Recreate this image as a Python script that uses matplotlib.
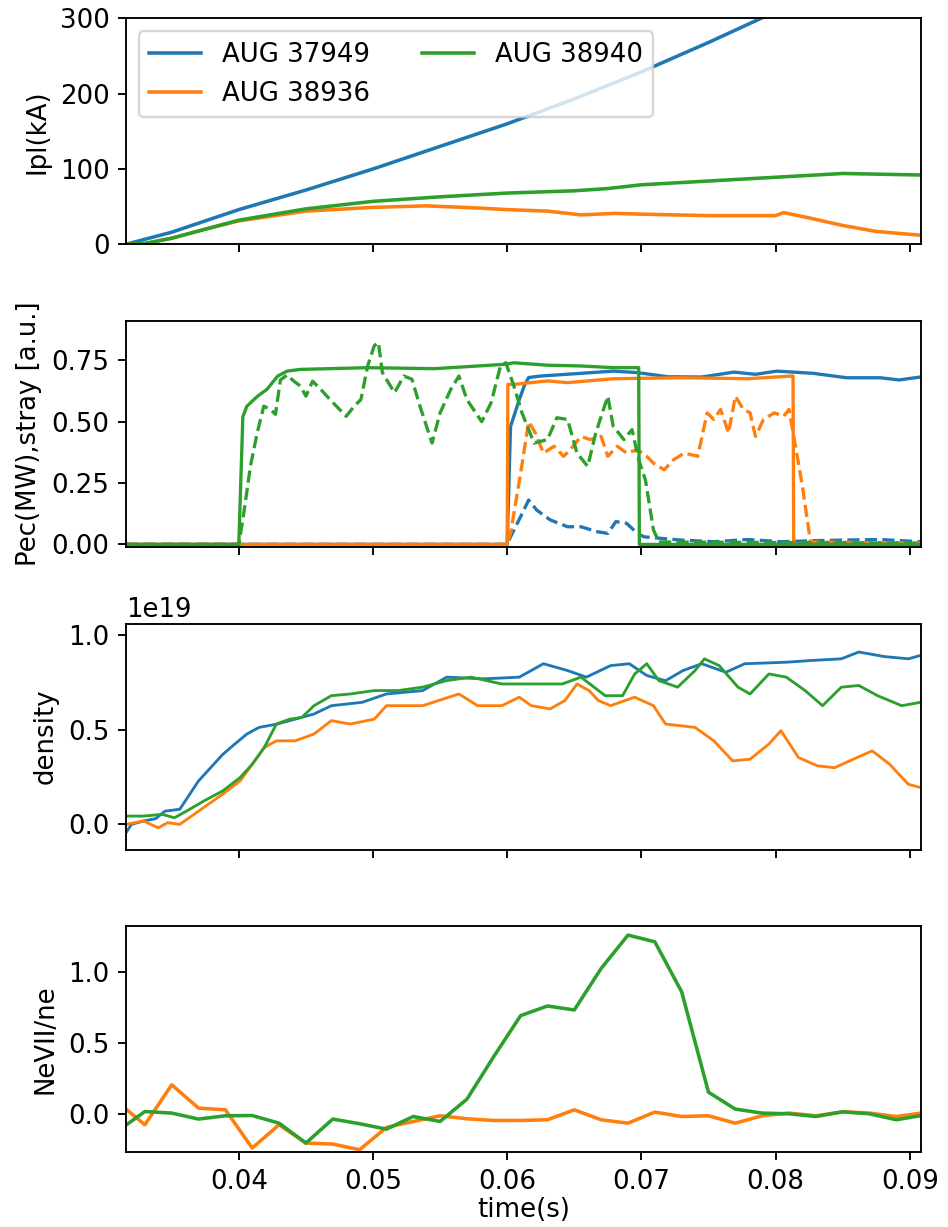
import numpy as np
import matplotlib
matplotlib.use("Agg")
import matplotlib.pyplot as plt

plt.rcParams['font.size'] = 11

shots = ["AUG 37949", "AUG 38936", "AUG 38940"]
colors = ["C0", "C1", "C2"]

# --- plasma current (kA) ---
ip_t_37949 = [0.0316, 0.035, 0.040, 0.045, 0.050, 0.055, 0.060, 0.065, 0.070, 0.075, 0.0789, 0.085, 0.0908]
ip_37949 = [0, 16, 46, 72, 100, 130, 160, 193, 229, 268, 300, 349, 397]

ip_t_38936 = [0.0316, 0.033, 0.035, 0.0375, 0.040, 0.045, 0.050, 0.054, 0.058, 0.060, 0.063, 0.0655,
              0.068, 0.070, 0.075, 0.080, 0.0806, 0.0825, 0.085, 0.0875, 0.0908]
ip_38936 = [0, 1, 8, 20, 31, 44, 49, 51, 48, 46, 44, 39, 41, 40, 38, 38, 42, 35, 25, 17, 12]

ip_t_38940 = [0.0316, 0.033, 0.035, 0.0375, 0.040, 0.045, 0.050, 0.055, 0.060, 0.065, 0.0675, 0.070,
              0.075, 0.080, 0.085, 0.0908]
ip_38940 = [0, 1, 8, 20, 32, 47, 57, 63, 68, 71, 74, 79, 84, 89, 94, 92]

# --- ECRH power (solid) ---
pec_t_37949 = [0.0316, 0.0600, 0.06025, 0.0609, 0.0613, 0.0616, 0.0625, 0.0655, 0.0679, 0.0697, 0.0720,
               0.0745, 0.0769, 0.0785, 0.0801, 0.0828, 0.0853, 0.0878, 0.0892, 0.0908]
pec_37949 = [0, 0, 0.48, 0.59, 0.65, 0.68, 0.686, 0.697, 0.706, 0.70, 0.683, 0.682, 0.702, 0.693,
             0.706, 0.697, 0.679, 0.679, 0.67, 0.682]

pec_t_38936 = [0.0316, 0.0600, 0.06005, 0.0605, 0.0630, 0.0645, 0.0679, 0.0729, 0.0779, 0.0812, 0.0813,
               0.08135, 0.0908]
pec_38936 = [0, 0, 0.652, 0.652, 0.666, 0.659, 0.675, 0.679, 0.675, 0.686, 0.686, 0, 0]

pec_t_38940 = [0.0316, 0.0400, 0.0403, 0.0406, 0.0414, 0.0421, 0.0429, 0.0436, 0.0446, 0.0496, 0.0546,
               0.0599, 0.0605, 0.0630, 0.0655, 0.0679, 0.0698, 0.06985, 0.0908]
pec_38940 = [0, 0, 0.52, 0.563, 0.604, 0.632, 0.686, 0.706, 0.713, 0.72, 0.716, 0.734, 0.74, 0.73,
             0.727, 0.72, 0.72, 0, 0]

# --- stray radiation (dashed) ---
stray_t_37949 = [0.0316, 0.0600, 0.06025, 0.0610, 0.0616, 0.0622, 0.0632, 0.0645, 0.0655, 0.0667, 0.0675,
                 0.0681, 0.0689, 0.0697, 0.0702, 0.0714, 0.0729, 0.0754, 0.0779, 0.0804, 0.0828,
                 0.0853, 0.0878, 0.0908]
stray_37949 = [0, 0, 0.031, 0.113, 0.181, 0.14, 0.10, 0.072, 0.072, 0.052, 0.045, 0.093, 0.086, 0.045,
               0.031, 0.025, 0.018, 0.011, 0.02, 0.011, 0.015, 0.018, 0.02, 0.011]

stray_t_38936 = [0.0316, 0.0600, 0.06025, 0.0610, 0.0616, 0.0621, 0.0627, 0.0635, 0.0642, 0.0647, 0.0655,
                 0.0662, 0.0670, 0.0675, 0.0682, 0.0689, 0.0697, 0.0704, 0.0709, 0.0717, 0.0724,
                 0.0732, 0.0742, 0.0749, 0.0754, 0.0759, 0.0765, 0.0770, 0.0776, 0.0781, 0.0785,
                 0.0791, 0.0799, 0.0806, 0.0810, 0.0814, 0.0820, 0.0826, 0.0908]
stray_38936 = [0, 0, 0.045, 0.29, 0.50, 0.454, 0.372, 0.40, 0.359, 0.386, 0.44, 0.427, 0.44, 0.359,
               0.40, 0.372, 0.386, 0.359, 0.331, 0.304, 0.345, 0.372, 0.359, 0.536, 0.509, 0.55,
               0.454, 0.604, 0.55, 0.536, 0.44, 0.509, 0.536, 0.522, 0.55, 0.427, 0.236, 0.01, 0.005]

stray_t_38940 = [0.0316, 0.0400, 0.04037, 0.04087, 0.04137, 0.04186, 0.04236, 0.04273, 0.0431, 0.0436,
                 0.0441, 0.0446, 0.0450, 0.0455, 0.0461, 0.0468, 0.0480, 0.0486, 0.0491, 0.0496,
                 0.0501, 0.0504, 0.0507, 0.0516, 0.0523, 0.0529, 0.0535, 0.0544, 0.0550, 0.0558,
                 0.0564, 0.0570, 0.0581, 0.0588, 0.0595, 0.0599, 0.0605, 0.0611, 0.0620, 0.0630,
                 0.0637, 0.0645, 0.0652, 0.0660, 0.0666, 0.0675, 0.0679, 0.0687, 0.0693, 0.0698,
                 0.0703, 0.0709, 0.0713, 0.0908]
stray_38940 = [0, 0, 0.127, 0.32, 0.454, 0.563, 0.55, 0.53, 0.67, 0.69, 0.665, 0.645, 0.604, 0.665,
               0.632, 0.59, 0.522, 0.563, 0.59, 0.727, 0.81, 0.823, 0.70, 0.618, 0.686, 0.673,
               0.563, 0.413, 0.536, 0.632, 0.686, 0.59, 0.50, 0.577, 0.727, 0.74, 0.645, 0.536,
               0.413, 0.427, 0.516, 0.509, 0.372, 0.318, 0.454, 0.604, 0.481, 0.427, 0.468, 0.345,
               0.263, 0.059, 0.01, 0.005]

# --- line-averaged density (1e19 m^-3) ---
ne_t_37949 = [0.0316, 0.0320, 0.0329, 0.0338, 0.0345, 0.0356, 0.0370, 0.0379, 0.0388, 0.0397, 0.0406,
              0.0415, 0.0428, 0.0442, 0.0456, 0.0469, 0.0492, 0.0510, 0.0537, 0.0555, 0.0582,
              0.0609, 0.0627, 0.0645, 0.0659, 0.0677, 0.0691, 0.0704, 0.0718, 0.0731, 0.0745,
              0.0763, 0.0777, 0.0808, 0.0826, 0.0849, 0.0862, 0.0881, 0.0899, 0.0908]
ne_37949 = [-0.044, 0.0, 0.018, 0.03, 0.07, 0.08, 0.23, 0.30, 0.37, 0.425, 0.478, 0.513, 0.53, 0.557,
            0.584, 0.628, 0.646, 0.69, 0.708, 0.779, 0.77, 0.779, 0.85, 0.814, 0.779, 0.84, 0.85,
            0.788, 0.76, 0.814, 0.85, 0.805, 0.85, 0.858, 0.867, 0.876, 0.912, 0.888, 0.876, 0.894]

ne_t_38936 = [0.0316, 0.0329, 0.0340, 0.0347, 0.0356, 0.0370, 0.0388, 0.0401, 0.0410, 0.0419, 0.0428,
              0.0442, 0.0456, 0.0469, 0.0483, 0.0501, 0.0510, 0.0537, 0.0564, 0.0578, 0.0596,
              0.0609, 0.0618, 0.0632, 0.0643, 0.0652, 0.0661, 0.0668, 0.0677, 0.0695, 0.0709,
              0.0718, 0.0740, 0.0754, 0.0768, 0.0781, 0.0795, 0.0804, 0.0817, 0.0831, 0.0844,
              0.0858, 0.0872, 0.0885, 0.0899, 0.0908]
ne_38936 = [0.0, 0.018, -0.018, 0.009, 0.0, 0.07, 0.16, 0.23, 0.318, 0.407, 0.442, 0.442, 0.478,
            0.549, 0.531, 0.557, 0.628, 0.628, 0.69, 0.628, 0.628, 0.673, 0.628, 0.611, 0.655,
            0.743, 0.708, 0.655, 0.628, 0.673, 0.628, 0.531, 0.513, 0.442, 0.336, 0.345, 0.425,
            0.496, 0.354, 0.31, 0.30, 0.345, 0.389, 0.318, 0.212, 0.195]

ne_t_38940 = [0.0316, 0.0329, 0.0343, 0.0352, 0.0361, 0.0374, 0.0388, 0.0401, 0.0410, 0.0419, 0.0428,
              0.0438, 0.0447, 0.0456, 0.0469, 0.0483, 0.0501, 0.0519, 0.0537, 0.0555, 0.0573,
              0.0596, 0.0618, 0.0641, 0.0655, 0.0673, 0.0686, 0.0695, 0.0704, 0.0713, 0.0727,
              0.0740, 0.0747, 0.0758, 0.0772, 0.0781, 0.0795, 0.0808, 0.0822, 0.0835, 0.0849,
              0.0862, 0.0876, 0.0894, 0.0908]
ne_38940 = [0.044, 0.044, 0.053, 0.035, 0.07, 0.124, 0.177, 0.248, 0.318, 0.407, 0.531, 0.557, 0.566,
            0.628, 0.681, 0.69, 0.708, 0.708, 0.726, 0.761, 0.779, 0.743, 0.743, 0.743, 0.779,
            0.681, 0.681, 0.796, 0.85, 0.761, 0.726, 0.814, 0.876, 0.84, 0.726, 0.69, 0.796,
            0.779, 0.708, 0.628, 0.726, 0.735, 0.681, 0.628, 0.646]

# --- NeVII / ne ---
nevii_t = [0.031, 0.033, 0.035, 0.037, 0.039, 0.041, 0.043, 0.045, 0.047, 0.049, 0.051, 0.053, 0.055,
           0.057, 0.059, 0.061, 0.063, 0.065, 0.067, 0.069, 0.071, 0.073, 0.075, 0.077, 0.079,
           0.081, 0.083, 0.085, 0.087, 0.089, 0.091]
nevii_38936 = [0.079, -0.077, 0.204, 0.04, 0.028, -0.241, -0.077, -0.206, -0.213, -0.253, -0.096,
               -0.054, -0.014, -0.035, -0.047, -0.047, -0.042, 0.028, -0.042, -0.066, 0.012,
               -0.019, -0.014, -0.066, -0.014, 0.005, -0.014, 0.014, 0.005, -0.019, 0.007]
nevii_38940 = [-0.12, 0.016, 0.005, -0.037, -0.014, -0.012, -0.066, -0.206, -0.037, -0.07, -0.108,
               -0.019, -0.054, 0.103, 0.403, 0.691, 0.759, 0.731, 1.023, 1.258, 1.211, 0.859,
               0.152, 0.033, 0.005, 0.0, -0.019, 0.014, 0.0, -0.042, -0.01]

fig, axes = plt.subplots(4, 1, sharex=True, figsize=(948 / 170, 1227 / 170), dpi=170)
fig.subplots_adjust(left=0.133, right=0.971, top=0.985, bottom=0.061, hspace=0.34)

# Panel 1: Ipl
ax = axes[0]
ax.plot(ip_t_37949, ip_37949, color=colors[0], label=shots[0])
ax.plot(ip_t_38936, ip_38936, color=colors[1], label=shots[1])
ax.plot(ip_t_38940, ip_38940, color=colors[2], label=shots[2])
ax.set_ylim(0, 300)
ax.set_yticks([0, 100, 200, 300])
ax.set_ylabel('Ipl(kA)')
ax.legend(loc='upper left', ncol=2)

# Panel 2: Pec and stray
ax = axes[1]
ax.plot(pec_t_37949, pec_37949, color=colors[0], lw=1.4)
ax.plot(stray_t_37949, stray_37949, color=colors[0], lw=1.4, ls='--')
ax.plot(pec_t_38936, pec_38936, color=colors[1], lw=1.4)
ax.plot(stray_t_38936, stray_38936, color=colors[1], lw=1.4, ls='--')
ax.plot(pec_t_38940, pec_38940, color=colors[2], lw=1.4)
ax.plot(stray_t_38940, stray_38940, color=colors[2], lw=1.4, ls='--')
ax.set_ylim(-0.01, 0.91)
ax.set_yticks([0.0, 0.25, 0.5, 0.75])
ax.set_ylabel('Pec(MW),stray [a.u.]')

# Panel 3: density
ax = axes[2]
ax.plot(ne_t_37949, np.array(ne_37949) * 1e19, color=colors[0], lw=1.2)
ax.plot(ne_t_38936, np.array(ne_38936) * 1e19, color=colors[1], lw=1.2)
ax.plot(ne_t_38940, np.array(ne_38940) * 1e19, color=colors[2], lw=1.2)
ax.set_ylim(-0.133e19, 1.062e19)
ax.set_yticks([0.0, 0.5e19, 1.0e19])
ax.set_ylabel('density')

# Panel 4: NeVII/ne
ax = axes[3]
ax.plot(nevii_t, nevii_38936, color=colors[1])
ax.plot(nevii_t, nevii_38940, color=colors[2])
ax.set_ylim(-0.27, 1.32)
ax.set_yticks([0.0, 0.5, 1.0])
ax.set_ylabel('NeVII/ne')
ax.set_xlabel('time(s)', labelpad=1)
ax.set_xlim(0.0316, 0.0908)
ax.set_xticks([0.04, 0.05, 0.06, 0.07, 0.08, 0.09])

fig.savefig('out.png')
